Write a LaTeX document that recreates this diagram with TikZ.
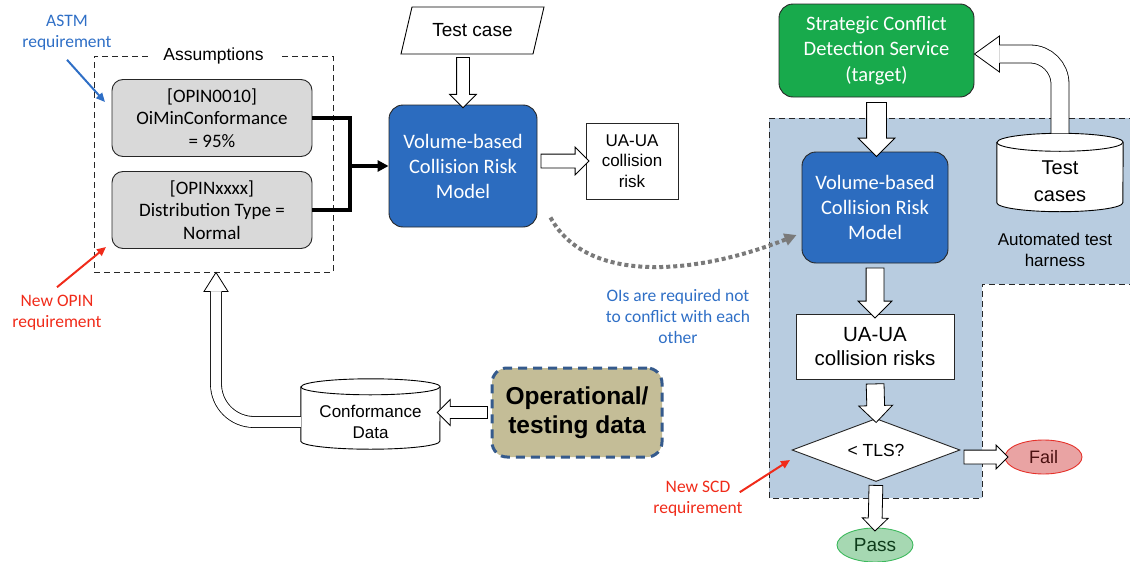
\documentclass[tikz,border=0pt]{standalone}
\usepackage{fontspec}
\setmainfont{Liberation Sans}
\newfontfamily\calib{Carlito}
\usetikzlibrary{shapes.geometric,shapes.arrows,arrows.meta,calc}
\definecolor{boxblue}{HTML}{2C6CBF}
\definecolor{scdgreen}{HTML}{18AA4C}
\definecolor{region}{HTML}{B8CCE0}
\definecolor{optgray}{HTML}{D9D9D9}
\definecolor{khaki}{HTML}{C4BD97}
\definecolor{opborder}{HTML}{355A8C}
\definecolor{lblblue}{HTML}{2F6FC6}
\definecolor{lblred}{HTML}{F02B1A}
\definecolor{failfill}{HTML}{E9A3A3}
\definecolor{failline}{HTML}{E5312A}
\definecolor{failtext}{HTML}{4A1010}
\definecolor{passfill}{HTML}{A6D8B2}
\definecolor{passline}{HTML}{3CB95C}
\definecolor{passtext}{HTML}{0D3B1A}
\definecolor{dotgray}{HTML}{7A7A7A}
\pgfdeclarelayer{back}
\pgfdeclarelayer{mid}
\pgfsetlayers{back,mid,main}

\newcommand\harrow[3][]{%
  \path let \p1=(#2), \p2=(#3),
    \n1={veclen(\x2-\x1,\y2-\y1)}, \n2={atan2(\y2-\y1,\x2-\x1)} in
    node[barrow,#1,minimum height=\n1,rotate=\n2] at ($(\p1)!0.5!(\p2)$) {};}
\newcommand\drawcyl[3]{%
  \draw[line width=0.9pt, fill=white] ([yshift=-#2]#1.north west) -- ([yshift=#2]#1.south west)
    arc[start angle=180,end angle=360,x radius=#3,y radius=#2]
    -- ([yshift=-#2]#1.north east)
    arc[start angle=0,end angle=180,x radius=#3,y radius=#2] -- cycle;
  \draw[line width=0.9pt] ([yshift=-#2]#1.north west)
    arc[start angle=180,end angle=360,x radius=#3,y radius=#2];}

\tikzset{
  barrow/.style={single arrow, draw=black, fill=white, line width=0.8pt, single arrow tip angle=90},
  harrowS/.style={inner sep=6pt, single arrow head extend=7pt, minimum width=26pt},
  harrowM/.style={inner sep=8.5pt, single arrow head extend=8pt, minimum width=33pt},
  harrowL/.style={inner sep=9.5pt, single arrow head extend=8.5pt, minimum width=36pt},
  dashbox/.style={draw=black!85, line width=0.9pt, dash pattern=on 6pt off 4pt},
  optbox/.style={draw=black!85, fill=optgray, line width=0.9pt, rounded corners=11pt,
    minimum width=200pt, minimum height=77pt, align=center, inner sep=0pt,
    font=\calib\fontsize{19}{22.5}\selectfont},
  vcrm/.style={draw=black!85, fill=boxblue, text=white, line width=0.9pt, rounded corners=14pt,
    align=center, inner sep=0pt, font=\calib\fontsize{20.5}{25}\selectfont},
  plainbox/.style={draw=black!85, fill=white, line width=0.9pt, align=center, inner sep=0pt},
  lbl/.style={align=center, inner sep=0pt, font=\calib\fontsize{17.5}{21}\selectfont},
  lblarrow/.style={line width=2pt, -{Triangle[length=9pt,width=8pt]}},
  hollowline/.style={line width=0.8pt, double=white, double distance=#1},
  dotline/.style={draw=dotgray, line width=4pt, dash pattern=on 4pt off 3pt,
    -{Triangle[length=12pt,width=12pt]}},
}

\begin{document}
\begin{tikzpicture}[x=1pt,y=-1pt]
\useasboundingbox (0,0) rectangle (1130,562);

% automated test harness region
\begin{pgfonlayer}{back}
\fill[region] (769,118) -- (1135,118) -- (1135,284) -- (982,284) -- (982,498) -- (769,498) -- cycle;
\draw[dashbox] (1135,118) -- (769,118) -- (769,498) -- (982,498) -- (982,284) -- (1135,284);
\end{pgfonlayer}

% left part
\node[dashbox, minimum width=239pt, minimum height=216pt] (assump) at (213.5,164) {};
\node[fill=white, inner xsep=15pt, inner ysep=3pt, font=\fontsize{17.5}{20}\selectfont] (assumtitle) at (213.5,56) {Assumptions};
\node[optbox] (op1) at (212,118) {[OPIN0010]\\OiMinConformance\\= 95\%};
\node[optbox] (op2) at (212,210) {[OPINxxxx]\\Distribution Type =\\Normal};

\node[lbl, text=lblblue] (astm) at (67,33) {ASTM\\requirement};
\node[lbl, text=lblred] (newopin) at (57,313) {New OPIN\\requirement};
\coordinate (astmtip) at (105,102);
\coordinate (opintip) at (106,247);
\draw[lblarrow, lblblue] ([yshift=-9pt]astm.south) -- (astmtip);
\draw[lblarrow, lblred] ([yshift=8pt]newopin.north) -- (opintip);

\node[vcrm, minimum width=148pt, minimum height=122pt] (vcrm1) at (463,166) {Volume-based\\Collision Risk\\Model};
\node[inner sep=0pt, minimum width=121pt, minimum height=47pt, font=\fontsize{19}{22}\selectfont] (tc) at (472.5,30.5) {Test case};
\draw[line width=0.9pt] ([shift={(-71.5pt,-23.5pt)}]tc.center) -- ([shift={(60.5pt,-23.5pt)}]tc.center)
  -- ([shift={(71.5pt,23.5pt)}]tc.center) -- ([shift={(-60.5pt,23.5pt)}]tc.center) -- cycle;
\node[plainbox, minimum width=92pt, minimum height=76pt, font=\fontsize{17}{20.5}\selectfont] (ua1) at (632,161) {UA-UA\\collision\\risk};

% bracket connector
\coordinate (br) at (vcrm1.west -| 350,0);
\draw[line width=3.3pt] (op1.east) -| (br);
\draw[line width=3.3pt] (op2.east) -| (br);
\draw[line width=3.3pt, -{Triangle[length=11pt,width=11pt]}] (br) -- (vcrm1.west);

% data sources
\node[minimum width=139pt, minimum height=70pt, inner sep=0pt,
  label={[font=\fontsize{17}{21}\selectfont, align=center, yshift=-7.5pt]center:Conformance\\Data}] (conf) at (370.5,414) {};
\node[draw=opborder, line width=3pt, dash pattern=on 9pt off 6pt, fill=khaki, rounded corners=15pt,
  minimum width=170pt, minimum height=89pt, align=center, inner sep=0pt,
  font=\bfseries\fontsize{24.5}{29}\selectfont] (oper) at (577,412.5) {Operational/\\testing data};

\node[lbl, text=lblblue] (ois) at (678,316) {OIs are required not\\to conflict with each\\other};

% right part
\node[draw=black!85, fill=scdgreen, text=white, line width=0.9pt, rounded corners=14pt,
  minimum width=195pt, minimum height=93pt, align=center, inner sep=0pt,
  font=\calib\fontsize{20.5}{25.5}\selectfont] (scd) at (876.5,50.5) {Strategic Conflict\\Detection Service\\(target)};
\node[vcrm, minimum width=146pt, minimum height=111pt] (vcrm2) at (875,207.5) {Volume-based\\Collision Risk\\Model};
\node[minimum width=126pt, minimum height=78pt, inner sep=0pt,
  label={[font=\fontsize{20}{27}\selectfont, align=center, yshift=-9pt]center:Test\\cases}] (tcase) at (1060,172.5) {};
\node[align=center, inner sep=0pt, font=\fontsize{17}{20.5}\selectfont] (harness) at (1055,250) {Automated test\\harness};
\node[plainbox, minimum width=158pt, minimum height=65pt, font=\fontsize{20.5}{24}\selectfont] (ua2) at (875,346.5) {UA-UA\\collision risks};
\node[diamond, draw=black!85, fill=white, line width=0.9pt, minimum width=168pt, minimum height=63pt,
  inner sep=0pt, aspect=2.67, font=\fontsize{17.5}{20}\selectfont] (dia) at (876,450) {< TLS?};
\node[ellipse, draw=failline, fill=failfill, line width=0.9pt, minimum width=77pt, minimum height=34pt,
  inner sep=0pt, text=failtext, font=\fontsize{18}{20}\selectfont] (fail) at (1043.5,457) {Fail};
\node[ellipse, draw=passline, fill=passfill, line width=0.9pt, minimum width=76pt, minimum height=34pt,
  inner sep=0pt, text=passtext, font=\fontsize{19}{20}\selectfont] (pass) at (875,545) {Pass};

\node[lbl, text=lblred] (newscd) at (698,499) {New SCD\\requirement};
\coordinate (scdtip) at (790,460);
\draw[lblarrow, lblred] ([shift={(-3pt,-11pt)}]newscd.north east) -- (scdtip);

% cylinders
\begin{pgfonlayer}{mid}
\drawcyl{conf}{8pt}{69.5pt}
\drawcyl{tcase}{9pt}{63pt}
\end{pgfonlayer}

% dotted link
\coordinate (dottip) at ([shift={(-5pt,-27.5pt)}]vcrm2.west);
\draw[dotline] ([shift={(13pt,10pt)}]vcrm1.south east) .. controls (590,290) and (710,270) .. (dottip);

% straight hollow arrows
\harrow[harrowS]{tc.south -| vcrm1.north}{vcrm1.north}
\harrow[harrowS, inner sep=6.5pt]{vcrm1.east |- ua1.west}{ua1.west}
\harrow[harrowS, inner sep=5.5pt]{oper.west}{conf.east |- oper.west}
\harrow[harrowL]{scd.south}{scd.south |- vcrm2.north}
\harrow[harrowM]{vcrm2.south}{ua2.north}
\harrow[harrowM]{ua2.south}{dia.north}
\harrow[harrowS, inner sep=6.5pt, single arrow head extend=6pt, minimum width=25pt]{dia.south}{pass.north}
\harrow[harrowS, inner sep=6.5pt, single arrow head extend=5pt, minimum width=23pt]{dia.east |- fail.west}{fail.west}

% curved hollow arrow: conformance data -> assumptions
\coordinate (atip) at ([xshift=2.5pt]assump.south);
\draw[hollowline=10.2pt, rounded corners=38pt] ([yshift=-8pt]conf.west) -| ([yshift=-19pt]atip);
\fill[white] (atip) -- ([shift={(-12pt,-19pt)}]atip) -- ([shift={(12pt,-19pt)}]atip) -- cycle;
\draw[line width=0.8pt] ([shift={(-5.5pt,-19pt)}]atip) -- ([shift={(-12pt,-19pt)}]atip) -- (atip)
  -- ([shift={(12pt,-19pt)}]atip) -- ([shift={(5.5pt,-19pt)}]atip);

% curved hollow arrow: test cases -> SCD
\coordinate (stip) at ([yshift=-3.5pt]scd.east);
\draw[hollowline=17.2pt, rounded corners=30pt] (tcase.north) |- ([xshift=25pt]stip);
\fill[white] (stip) -- ([shift={(25pt,18pt)}]stip) -- ([shift={(25pt,-18pt)}]stip) -- cycle;
\draw[line width=0.8pt] ([shift={(25pt,9pt)}]stip) -- ([shift={(25pt,18pt)}]stip) -- (stip)
  -- ([shift={(25pt,-18pt)}]stip) -- ([shift={(25pt,-9pt)}]stip);
\end{tikzpicture}
\end{document}
